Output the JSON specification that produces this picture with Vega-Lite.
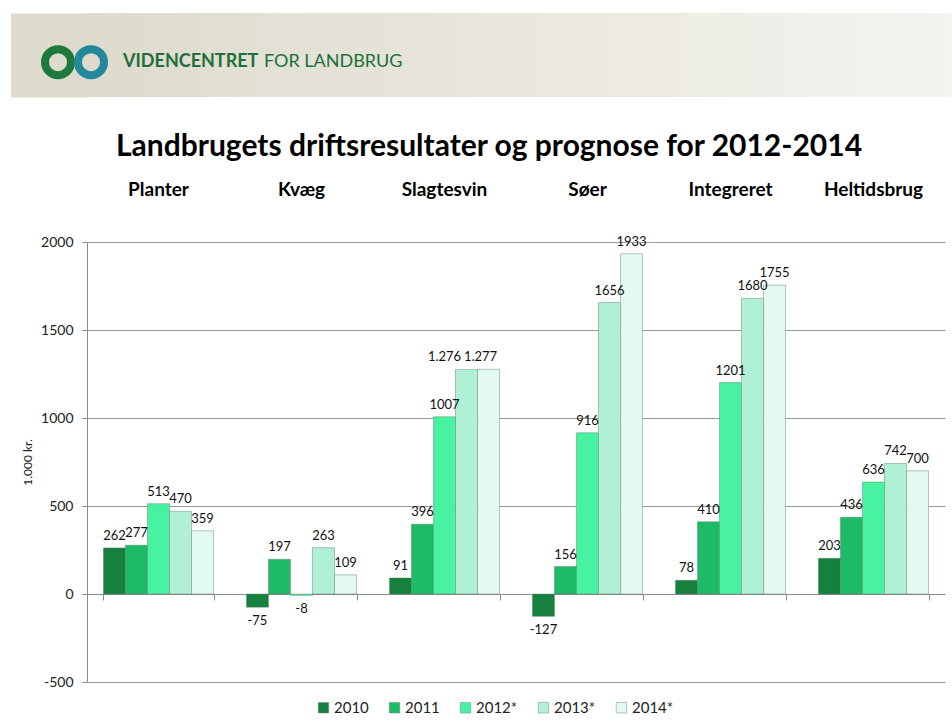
{
  "$schema": "https://vega.github.io/schema/vega-lite/v6.json",
  "background": "white",
  "padding": {"left": 10, "top": 13, "right": 0, "bottom": 0},
  "autosize": {"type": "pad"},
  "config": {"font": "Lato", "view": {"stroke": null}},
  "datasets": {
    "logo": [{"ring": "LANDBRUG"}, {"ring": "FØDEVARER"}],
    "brand": [{"part": "VIDENCENTRET"}, {"part": "FOR LANDBRUG"}],
    "results": [
      {"category": "Planter", "year": "2010", "value": 262, "label": "262"},
      {"category": "Planter", "year": "2011", "value": 277, "label": "277"},
      {"category": "Planter", "year": "2012*", "value": 513, "label": "513"},
      {"category": "Planter", "year": "2013*", "value": 470, "label": "470"},
      {"category": "Planter", "year": "2014*", "value": 359, "label": "359"},
      {"category": "Kvæg", "year": "2010", "value": -75, "label": "-75"},
      {"category": "Kvæg", "year": "2011", "value": 197, "label": "197"},
      {"category": "Kvæg", "year": "2012*", "value": -8, "label": "-8"},
      {"category": "Kvæg", "year": "2013*", "value": 263, "label": "263"},
      {"category": "Kvæg", "year": "2014*", "value": 109, "label": "109"},
      {"category": "Slagtesvin", "year": "2010", "value": 91, "label": "91"},
      {"category": "Slagtesvin", "year": "2011", "value": 396, "label": "396"},
      {"category": "Slagtesvin", "year": "2012*", "value": 1007, "label": "1007"},
      {"category": "Slagtesvin", "year": "2013*", "value": 1276, "label": "1.276"},
      {"category": "Slagtesvin", "year": "2014*", "value": 1277, "label": "1.277"},
      {"category": "Søer", "year": "2010", "value": -127, "label": "-127"},
      {"category": "Søer", "year": "2011", "value": 156, "label": "156"},
      {"category": "Søer", "year": "2012*", "value": 916, "label": "916"},
      {"category": "Søer", "year": "2013*", "value": 1656, "label": "1656"},
      {"category": "Søer", "year": "2014*", "value": 1933, "label": "1933"},
      {"category": "Integreret", "year": "2010", "value": 78, "label": "78"},
      {"category": "Integreret", "year": "2011", "value": 410, "label": "410"},
      {"category": "Integreret", "year": "2012*", "value": 1201, "label": "1201"},
      {"category": "Integreret", "year": "2013*", "value": 1680, "label": "1680"},
      {"category": "Integreret", "year": "2014*", "value": 1755, "label": "1755"},
      {"category": "Heltidsbrug", "year": "2010", "value": 203, "label": "203"},
      {"category": "Heltidsbrug", "year": "2011", "value": 436, "label": "436"},
      {"category": "Heltidsbrug", "year": "2012*", "value": 636, "label": "636"},
      {"category": "Heltidsbrug", "year": "2013*", "value": 742, "label": "742"},
      {"category": "Heltidsbrug", "year": "2014*", "value": 700, "label": "700"}
    ]
  },
  "spacing": 35,
  "resolve": {"scale": {"x": "independent", "y": "independent", "color": "independent", "stroke": "independent"}},
  "vconcat": [
    {
      "width": 866,
      "height": 84,
      "view": {
        "stroke": null,
        "fill": {
          "gradient": "linear", "x1": 0, "y1": 0, "x2": 1, "y2": 0,
          "stops": [{"offset": 0, "color": "#dedbcd"}, {"offset": 1, "color": "#f4f3ef"}]
        }
      },
      "layer": [
        {
          "data": {"name": "logo"},
          "mark": {"type": "point", "shape": "circle", "filled": false, "strokeWidth": 8, "size": 676, "opacity": 1},
          "encoding": {
            "x": {"field": "ring", "type": "nominal", "sort": null, "scale": {"type": "point", "padding": 0, "range": [-29, 4]}, "axis": null},
            "y": {
              "datum": "hdr", "type": "nominal",
              "scale": {"type": "point", "padding": 0.5, "align": 0.585},
              "axis": {"orient": "left", "offset": 38, "domainWidth": 77, "domainColor": "#dedbcd", "labels": false, "ticks": true, "tickSize": 38, "tickWidth": 1, "tickColor": "#dedbcd", "grid": false, "title": null}
            },
            "stroke": {"field": "ring", "type": "nominal", "scale": {"domain": ["LANDBRUG", "FØDEVARER"], "range": ["#1d7a3c", "#23899a"]}, "legend": null}
          }
        },
        {
          "data": {"name": "brand"},
          "mark": {
            "type": "text", "align": "left", "baseline": "middle", "fontSize": 18, "color": "#1f6f3a",
            "fontWeight": {"expr": "datum.part == 'VIDENCENTRET' ? 'bold' : 'normal'"}
          },
          "encoding": {
            "x": {"field": "part", "type": "nominal", "sort": null, "scale": {"type": "point", "padding": 0, "range": [36, 177]}, "axis": null},
            "y": {"datum": "hdr", "type": "nominal"},
            "text": {"field": "part"}
          }
        }
      ],
      "resolve": {"scale": {"x": "independent"}}
    },
    {
      "width": 858,
      "height": 440,
      "data": {"name": "results"},
      "title": {
        "text": "Landbrugets driftsresultater og prognose for 2012-2014",
        "fontSize": 30, "fontWeight": "bold", "color": "#000", "anchor": "middle", "dx": -27, "offset": 18
      },
      "layer": [
        {
          "mark": {"type": "bar", "stroke": "#5f7f6d", "strokeOpacity": 0.45, "strokeWidth": 1},
          "encoding": {
            "x": {
              "field": "category", "type": "nominal",
              "sort": ["Planter", "Kvæg", "Slagtesvin", "Søer", "Integreret", "Heltidsbrug"],
              "scale": {"paddingInner": 0.23, "paddingOuter": 0.115},
              "axis": {"orient": "top", "title": null, "domain": false, "ticks": false, "labelAngle": 0, "labelFontSize": 19, "labelFontWeight": "bold", "labelColor": "#000", "labelPadding": 43}
            },
            "xOffset": {"field": "year", "type": "nominal", "sort": ["2010", "2011", "2012*", "2013*", "2014*"], "scale": {"paddingInner": 0, "paddingOuter": 0}},
            "y": {
              "field": "value", "type": "quantitative",
              "scale": {"domain": [-500, 2000], "nice": false, "zero": false},
              "axis": {
                "values": [-500, 0, 500, 1000, 1500, 2000], "labelExpr": "'' + datum.value", "grid": true, "gridColor": "#9a9a9a",
                "domainColor": "#8a8a8a", "tickColor": "#8a8a8a", "tickSize": 5, "labelPadding": 9,
                "labelFontSize": 14, "labelColor": "#222", "title": "1.000 kr.", "titleFontSize": 12,
                "titleFontWeight": "normal", "titleColor": "#222", "titlePadding": 6
              }
            },
            "color": {
              "field": "year", "type": "nominal",
              "scale": {"domain": ["2010", "2011", "2012*", "2013*", "2014*"], "range": ["#16803f", "#1dba68", "#47f2a0", "#b0f0d4", "#e2faf1"]},
              "legend": {
                "orient": "none", "legendX": 229, "legendY": 458, "direction": "horizontal", "title": null,
                "symbolType": "square", "symbolSize": 110, "labelFontSize": 15, "labelColor": "#222",
                "columnPadding": 18, "labelOffset": 3, "symbolStrokeColor": "#6f8f7d", "symbolStrokeWidth": 0.5
              }
            }
          }
        },
        {
          "transform": [{"filter": "datum.value >= 0"}],
          "mark": {
            "type": "text", "baseline": "alphabetic", "dy": -8, "fontSize": 13, "color": "#111",
            "dx": {"expr": "datum.label == '1.276' ? -22 : datum.label == '1.277' ? -8 : 0"}
          },
          "encoding": {
            "x": {
              "field": "category", "type": "nominal",
              "sort": ["Planter", "Kvæg", "Slagtesvin", "Søer", "Integreret", "Heltidsbrug"],
              "axis": {"orient": "bottom", "offset": -88, "labels": false, "ticks": true, "tickBand": "extent", "tickSize": 6, "tickColor": "#8a8a8a", "domainColor": "#8a8a8a", "title": null, "grid": false}
            },
            "xOffset": {"field": "year", "type": "nominal", "sort": ["2010", "2011", "2012*", "2013*", "2014*"]},
            "y": {"field": "value", "type": "quantitative", "axis": null},
            "text": {"field": "label"}
          }
        },
        {
          "transform": [{"filter": "datum.value < 0"}],
          "mark": {"type": "text", "baseline": "top", "dy": 8, "fontSize": 13, "color": "#111"},
          "encoding": {
            "x": {"field": "category", "type": "nominal", "sort": ["Planter", "Kvæg", "Slagtesvin", "Søer", "Integreret", "Heltidsbrug"], "axis": null},
            "xOffset": {"field": "year", "type": "nominal", "sort": ["2010", "2011", "2012*", "2013*", "2014*"]},
            "y": {"field": "value", "type": "quantitative", "axis": null},
            "text": {"field": "label"}
          }
        }
      ],
      "resolve": {"axis": {"x": "independent", "y": "independent"}}
    }
  ]
}
